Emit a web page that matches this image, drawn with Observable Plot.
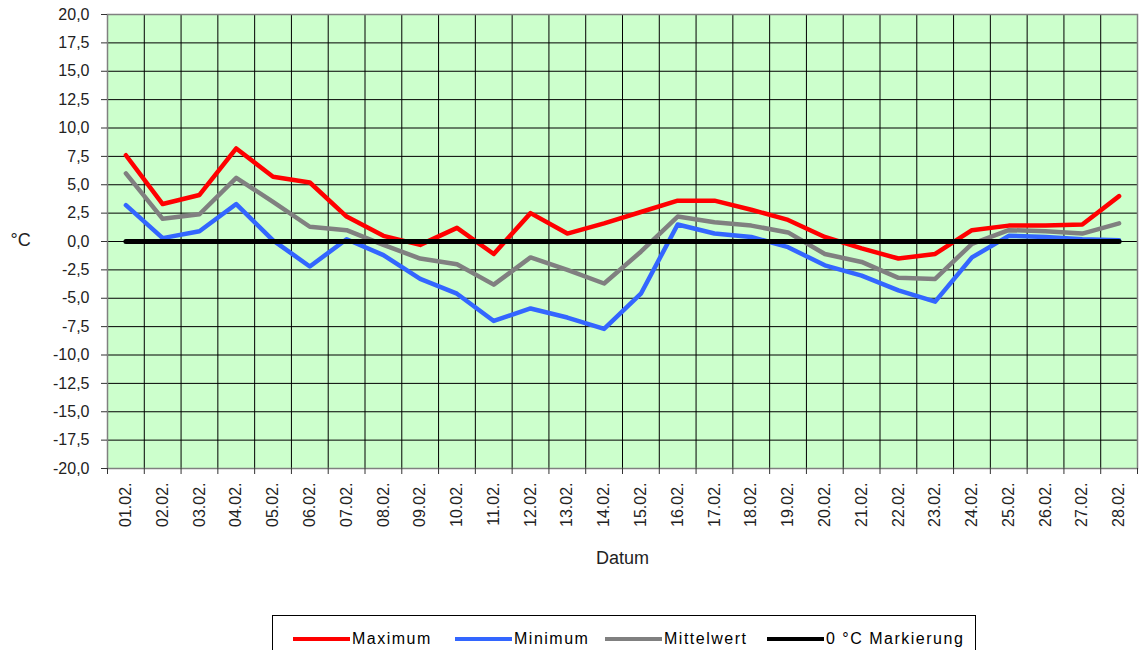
<!DOCTYPE html>
<html><head><meta charset="utf-8">
<script src="https://cdn.jsdelivr.net/npm/d3@7"></script>
<script src="https://cdn.jsdelivr.net/npm/@observablehq/plot@0.6"></script>
<style>
body{margin:0;background:#fff;font-family:"Liberation Sans",Arial,sans-serif}
#legend{margin:15px 0 0 272px;width:702px;height:45px;border:1px solid #000;border-bottom:none;box-sizing:content-box;position:relative;font-size:16px;letter-spacing:1.5px;color:#000}
.item{position:absolute;top:14px;display:flex;align-items:center;white-space:nowrap}
.sw{display:inline-block;width:57px;height:4px;margin-right:2px}
</style>
</head><body><div id="chart"></div><div id="legend"></div>
<script>
const dates = ["01.02.","02.02.","03.02.","04.02.","05.02.","06.02.","07.02.","08.02.","09.02.","10.02.","11.02.","12.02.","13.02.","14.02.","15.02.","16.02.","17.02.","18.02.","19.02.","20.02.","21.02.","22.02.","23.02.","24.02.","25.02.","26.02.","27.02.","28.02."];
const maximum = [7.6,3.3,4.1,8.2,5.7,5.2,2.2,0.5,-0.3,1.2,-1.1,2.5,0.7,1.6,2.6,3.6,3.6,2.8,1.9,0.4,-0.6,-1.5,-1.1,1.0,1.4,1.4,1.5,4.0];
const minimum = [3.2,0.3,0.9,3.3,0.1,-2.2,0.2,-1.2,-3.3,-4.6,-7.0,-5.9,-6.7,-7.7,-4.6,1.5,0.7,0.4,-0.5,-2.1,-3.0,-4.3,-5.3,-1.4,0.5,0.4,0.2,0.1];
const mittelwert = [6.0,2.0,2.4,5.6,3.5,1.3,1.0,-0.3,-1.5,-2.0,-3.8,-1.4,-2.5,-3.7,-0.9,2.2,1.7,1.4,0.8,-1.1,-1.8,-3.2,-3.3,-0.2,1.0,0.9,0.7,1.6];
const markierung = dates.map(() => 0);
const seriesNames = ["Maximum","Minimum","Mittelwert","0 °C Markierung"];
const seriesColors = ["#ff0000","#3366ff","#808080","#000000"];
const yTicks = d3.range(-20, 20.001, 2.5);

const allSeries = [maximum, minimum, mittelwert, markierung];
const rows = allSeries.flatMap((arr, s) => arr.map((v, i) => ({i, v, s: seriesNames[s]})));
const idx = dates.map((d, i) => i);
const bounds = d3.range(dates.length + 1).map(k => k - 0.5);
const innerBounds = bounds.slice(1, -1);
const fmt = v => v.toFixed(1).replace(".", ",").replace("−", "-");

const chart = Plot.plot({
  width: 1140, height: 600,
  marginLeft: 107, marginRight: 3, marginTop: 14, marginBottom: 132,
  style: {fontFamily: '"Liberation Sans", Arial, sans-serif', fontSize: "16px", color: "#000", background: "#fff"},
  x: {type: "linear", domain: [-0.5, dates.length - 0.5]},
  y: {domain: [-20, 20]},
  marks: [
    Plot.frame({fill: "#ccffcc", stroke: null}),
    Plot.ruleY(yTicks.slice(1, -1), {stroke: "#000", strokeWidth: 1}),
    Plot.ruleX(innerBounds, {stroke: "#000", strokeWidth: 1}),
    Plot.frame({stroke: "#808080", strokeWidth: 1.5}),
    ...seriesNames.map((name, s) =>
      Plot.line(rows.filter(r => r.s === name), {x: "i", y: "v", stroke: seriesColors[s], strokeWidth: s === 3 ? 5 : 4.5, strokeLinejoin: "round", strokeLinecap: "round"})
    ),
    Plot.axisY(yTicks, {tickFormat: fmt, tickSize: 6, tickPadding: 12, stroke: "#333", label: null, fontSize: 16, fill: "#222"}),
    Plot.axisX(bounds, {tickSize: 6, tickFormat: () => "", stroke: "#333", label: null}),
    Plot.axisX(idx, {tickSize: 0, tickPadding: 14, tickRotate: -90, tickFormat: i => dates[i], label: null, fontSize: 16, fill: "#222"}),
    Plot.text(["Datum"], {frameAnchor: "bottom", dy: 95, fontSize: 18, fill: "#222"}),
    Plot.text(["°C"], {frameAnchor: "left", dx: -97, textAnchor: "start", dy: -1, fontSize: 18, fill: "#222"})
  ]
});
document.getElementById("chart").appendChild(chart);

const legend = document.getElementById("legend");
const lefts = [293, 455, 605, 767];
seriesNames.forEach((name, s) => {
  const it = document.createElement("div");
  it.className = "item";
  it.style.left = (lefts[s] - 273) + "px";
  const sw = document.createElement("span");
  sw.className = "sw";
  sw.style.background = seriesColors[s];
  it.appendChild(sw);
  it.appendChild(document.createTextNode(name));
  legend.appendChild(it);
});
</script>
</body></html>
